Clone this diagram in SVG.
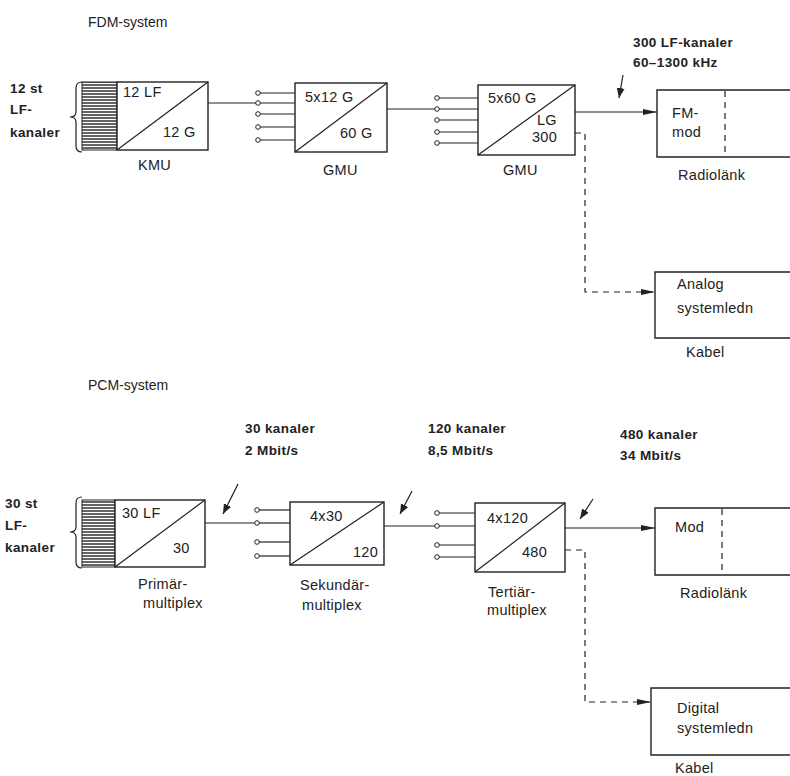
<svg xmlns="http://www.w3.org/2000/svg" width="790" height="776" viewBox="0 0 790 776">
<style>
text{font-family:"Liberation Sans",Arial,sans-serif;font-size:14.5px;fill:#222;letter-spacing:0.3px}
.b{font-weight:bold;font-size:13.5px;letter-spacing:0.4px}
.h{font-size:14px;letter-spacing:0}
.box{fill:#fff;stroke:#222;stroke-width:1.4}
.ln{fill:none;stroke:#222;stroke-width:1.2}
.ds{fill:none;stroke:#222;stroke-width:1.2;stroke-dasharray:6,5}
.term{fill:#fff;stroke:#222;stroke-width:1}
</style>
<defs>
<pattern id="hatch" width="6" height="3" patternUnits="userSpaceOnUse">
<rect width="6" height="3" fill="#fff"/>
<line x1="0" y1="1" x2="6" y2="1" stroke="#222" stroke-width="1.4"/>
</pattern>
<marker id="ah" markerWidth="14" markerHeight="8" refX="14" refY="4" orient="auto" markerUnits="userSpaceOnUse">
<path d="M0,1 L14,4 L0,7 Z" fill="#222"/>
</marker>
<marker id="ahs" markerWidth="10" markerHeight="8" refX="10" refY="4" orient="auto" markerUnits="userSpaceOnUse">
<path d="M0,0 L10,4 L0,8 Z" fill="#222"/>
</marker>
</defs>

<text x="88" y="27" class="h">FDM-system</text>
<text x="88" y="390" class="h">PCM-system</text>

<!-- FDM -->
<g id="fdm-input">
<text x="10" y="93" class="b">12 st</text>
<text x="10" y="114" class="b">LF-</text>
<text x="10" y="137" class="b">kanaler</text>
<path class="ln" d="M82,82 Q76,82 76,88 L76,112 Q76,117 70,117 Q76,117 76,122 L76,146 Q76,152 82,152"/>
</g>
<g id="kmu">
<rect x="82" y="82" width="35" height="68" fill="url(#hatch)" stroke="#222" stroke-width="1"/>
<rect class="box" x="117" y="82" width="91" height="68"/>
<line class="ln" x1="117" y1="150" x2="208" y2="82"/>
<text x="123" y="97">12 LF</text>
<text x="163" y="137">12 G</text>
<text x="138" y="170">KMU</text>
</g>
<g id="gmu1">
<rect class="box" x="295" y="83" width="92" height="69"/>
<line class="ln" x1="295" y1="152" x2="387" y2="83"/>
<text x="305" y="102">5x12 G</text>
<text x="340" y="138">60 G</text>
<text x="323" y="175">GMU</text>
</g>
<g id="gmu2">
<rect class="box" x="478" y="85" width="97" height="70"/>
<line class="ln" x1="478" y1="155" x2="575" y2="85"/>
<text x="488" y="103">5x60 G</text>
<text x="537" y="125">LG</text>
<text x="532" y="142">300</text>
<text x="503" y="175">GMU</text>
</g>
<g id="fm-mod">
<text x="633" y="47" class="b">300 LF-kanaler</text>
<text x="633" y="67" class="b">60–1300 kHz</text>
<path class="box" d="M790,90 L657,90 L657,157 L790,157"/>
<line class="ds" x1="725" y1="91" x2="725" y2="156"/>
<text x="672" y="118">FM-</text>
<text x="672" y="137">mod</text>
<text x="678" y="180">Radiolänk</text>
</g>
<g id="analog">
<path class="box" d="M790,272 L655,272 L655,338 L790,338"/>
<text x="677" y="289">Analog</text>
<text x="677" y="313">systemledn</text>
<text x="686" y="357">Kabel</text>
</g>

<!-- PCM -->
<g id="pcm-input">
<text x="5" y="508" class="b">30 st</text>
<text x="5" y="530" class="b">LF-</text>
<text x="5" y="552" class="b">kanaler</text>
<path class="ln" d="M82,497 Q76,497 76,503 L76,527 Q76,532 70,532 Q76,532 76,537 L76,562 Q76,568 82,568"/>
</g>
<g id="primar">
<rect x="82" y="500" width="33" height="67" fill="url(#hatch)" stroke="#222" stroke-width="1"/>
<rect class="box" x="115" y="500" width="90" height="67"/>
<line class="ln" x1="115" y1="567" x2="205" y2="500"/>
<text x="122" y="518">30 LF</text>
<text x="173" y="553">30</text>
<text x="138" y="589">Primär-</text>
<text x="143" y="608">multiplex</text>
</g>
<g id="sekundar">
<rect class="box" x="290" y="502" width="94" height="63"/>
<line class="ln" x1="290" y1="565" x2="384" y2="502"/>
<text x="310" y="521">4x30</text>
<text x="353" y="557">120</text>
<text x="300" y="590">Sekundär-</text>
<text x="302" y="610">multiplex</text>
</g>
<g id="tertiar">
<rect class="box" x="475" y="503" width="90" height="69"/>
<line class="ln" x1="475" y1="572" x2="565" y2="503"/>
<text x="487" y="523">4x120</text>
<text x="522" y="557">480</text>
<text x="488" y="597">Tertiär-</text>
<text x="487" y="615">multiplex</text>
</g>
<g id="mod">
<path class="box" d="M790,508 L655,508 L655,575 L790,575"/>
<line class="ds" x1="722" y1="509" x2="722" y2="574"/>
<text x="675" y="532">Mod</text>
<text x="680" y="598">Radiolänk</text>
</g>
<g id="digital">
<path class="box" d="M790,688 L651,688 L651,755 L790,755"/>
<text x="677" y="713">Digital</text>
<text x="677" y="733">systemledn</text>
<text x="675" y="773">Kabel</text>
</g>
<g id="rate-labels">
<text x="245" y="433" class="b">30 kanaler</text>
<text x="245" y="455" class="b">2 Mbit/s</text>
<text x="428" y="433" class="b">120 kanaler</text>
<text x="428" y="455" class="b">8,5 Mbit/s</text>
<text x="620" y="439" class="b">480 kanaler</text>
<text x="620" y="460" class="b">34 Mbit/s</text>
</g>

<g id="connectors">
<!-- FDM -->
<line class="ln" x1="208" y1="103" x2="256" y2="103"/>
<g class="ln">
<line x1="260" y1="93" x2="295" y2="93"/>
<line x1="260" y1="103" x2="295" y2="103"/>
<line x1="260" y1="114" x2="295" y2="114"/>
<line x1="260" y1="127" x2="295" y2="127"/>
<line x1="260" y1="140" x2="295" y2="140"/>
</g>
<circle class="term" cx="258" cy="93" r="2.3"/>
<circle class="term" cx="258" cy="103" r="2.3"/>
<circle class="term" cx="258" cy="114" r="2.3"/>
<circle class="term" cx="258" cy="127" r="2.3"/>
<circle class="term" cx="258" cy="140" r="2.3"/>
<line class="ln" x1="387" y1="109" x2="435" y2="109"/>
<g class="ln">
<line x1="439" y1="98" x2="478" y2="98"/>
<line x1="439" y1="109" x2="478" y2="109"/>
<line x1="439" y1="120" x2="478" y2="120"/>
<line x1="439" y1="132" x2="478" y2="132"/>
<line x1="439" y1="143" x2="478" y2="143"/>
</g>
<circle class="term" cx="437" cy="98" r="2.3"/>
<circle class="term" cx="437" cy="109" r="2.3"/>
<circle class="term" cx="437" cy="120" r="2.3"/>
<circle class="term" cx="437" cy="132" r="2.3"/>
<circle class="term" cx="437" cy="143" r="2.3"/>
<line class="ln" x1="575" y1="112" x2="657" y2="112" marker-end="url(#ah)"/>
<line class="ln" x1="623" y1="75" x2="619" y2="98" marker-end="url(#ahs)"/>
<path class="ds" d="M575,133 L585,133 L585,292 L655,292" marker-end="url(#ah)"/>
<!-- PCM -->
<line class="ln" x1="205" y1="523" x2="255" y2="523"/>
<g class="ln">
<line x1="259" y1="510" x2="290" y2="510"/>
<line x1="259" y1="523" x2="290" y2="523"/>
<line x1="259" y1="542" x2="290" y2="542"/>
<line x1="259" y1="556" x2="290" y2="556"/>
</g>
<circle class="term" cx="257" cy="510" r="2.3"/>
<circle class="term" cx="257" cy="523" r="2.3"/>
<circle class="term" cx="257" cy="542" r="2.3"/>
<circle class="term" cx="257" cy="556" r="2.3"/>
<line class="ln" x1="238" y1="484" x2="223" y2="514" marker-end="url(#ahs)"/>
<line class="ln" x1="384" y1="526" x2="435" y2="526"/>
<g class="ln">
<line x1="439" y1="513" x2="475" y2="513"/>
<line x1="439" y1="526" x2="475" y2="526"/>
<line x1="439" y1="545" x2="475" y2="545"/>
<line x1="439" y1="557" x2="475" y2="557"/>
</g>
<circle class="term" cx="437" cy="513" r="2.3"/>
<circle class="term" cx="437" cy="526" r="2.3"/>
<circle class="term" cx="437" cy="545" r="2.3"/>
<circle class="term" cx="437" cy="557" r="2.3"/>
<line class="ln" x1="412" y1="491" x2="400" y2="514" marker-end="url(#ahs)"/>
<line class="ln" x1="565" y1="528" x2="655" y2="528" marker-end="url(#ah)"/>
<line class="ln" x1="593" y1="499" x2="580" y2="519" marker-end="url(#ahs)"/>
<path class="ds" d="M565,550 L585,550 L585,702 L651,702" marker-end="url(#ah)"/>
</g>
</svg>
